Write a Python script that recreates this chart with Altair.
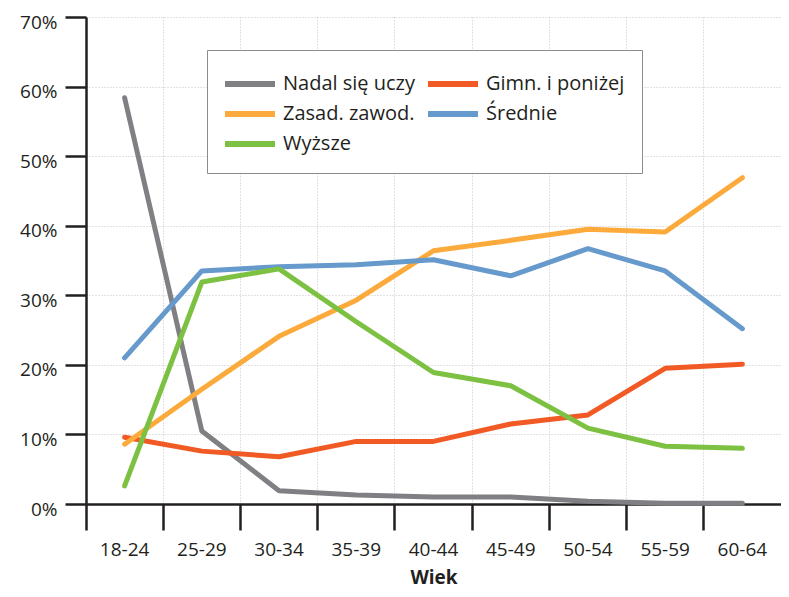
import altair as alt
import pandas as pd

wiek = ["18-24", "25-29", "30-34", "35-39", "40-44", "45-49", "50-54", "55-59", "60-64"]
nadal = [58.4, 10.5, 1.9, 1.3, 1.0, 1.0, 0.4, 0.1, 0.1]
gimn = [9.6, 7.6, 6.8, 9.0, 9.0, 11.5, 12.8, 19.5, 20.1]
zasad = [8.6, 16.5, 24.1, 29.3, 36.4, 37.9, 39.5, 39.1, 46.9]
srednie = [21.0, 33.5, 34.1, 34.4, 35.1, 32.8, 36.7, 33.5, 25.2]
wyzsze = [2.6, 31.9, 33.8, 26.2, 18.9, 17.0, 10.9, 8.3, 8.0]

series_names = ["Nadal się uczy", "Gimn. i poniżej", "Zasad. zawod.", "Średnie", "Wyższe"]
series_values = [nadal, gimn, zasad, srednie, wyzsze]
colors = ["#808084", "#f15a24", "#fbaa3b", "#6699cc", "#7dc142"]
y_ticks = [0, 10, 20, 30, 40, 50, 60, 70]

rows = []
for name, vals in zip(series_names, series_values):
    for w, v in zip(wiek, vals):
        rows.append({"wiek": w, "seria": name, "value": v})
df = pd.DataFrame(rows)

FONT = "Open Sans"
INK = "#231f20"
W = 695
H = 487

chart = (
    alt.Chart(df)
    .mark_line(strokeWidth=5, strokeCap="round", strokeJoin="round")
    .encode(
        x=alt.X(
            "wiek:O",
            sort=wiek,
            bandPosition=0.5,
            scale=alt.Scale(type="band", paddingInner=0, paddingOuter=0),
            axis=alt.Axis(
                title="Wiek",
                bandPosition=0,
                labelAngle=0,
                labelAlign="center",
                labelFont=FONT,
                labelFontSize=19,
                labelColor=INK,
                labelPadding=10,
                tickSize=26,
                tickWidth=2.5,
                tickColor=INK,
                domainWidth=2.5,
                domainColor=INK,
                grid=True,
                gridColor="#c4c4c4",
                gridDash=[1, 2],
                gridWidth=1,
                titleFont=FONT,
                titleFontSize=19,
                titleFontWeight="bold",
                titleColor=INK,
                titlePadding=9,
            ),
        ),
        y=alt.Y(
            "value:Q",
            scale=alt.Scale(domain=[0, 70], nice=False),
            axis=alt.Axis(
                title=None,
                values=y_ticks,
                labelExpr="datum.value + '%'",
                labelFont=FONT,
                labelFontSize=19,
                labelColor=INK,
                labelPadding=8,
                labelOffset=5,
                tickSize=21,
                tickWidth=2.5,
                tickColor=INK,
                domainWidth=2.5,
                domainColor=INK,
                grid=True,
                gridColor="#c4c4c4",
                gridDash=[1, 2],
                gridWidth=1,
            ),
        ),
        color=alt.Color(
            "seria:N",
            sort=series_names,
            scale=alt.Scale(domain=series_names, range=colors),
            legend=alt.Legend(
                title=" ",
                titleFontSize=5,
                titlePadding=2,
                orient="none",
                legendX=121,
                legendY=33,
                columns=2,
                direction="horizontal",
                symbolType="M-1.8,0L8.2,0",
                symbolSize=100,
                symbolStrokeWidth=6,
                labelFont=FONT,
                labelFontSize=20,
                labelColor=INK,
                labelOffset=39,
                columnPadding=0,
                rowPadding=6,
                padding=17,
                strokeColor="#8c8c8c",
                fillColor="white",
            ),
        ),
    )
    .properties(
        width=W,
        height=H,
        autosize="none",
        padding={"left": 78, "top": 9, "right": 0, "bottom": 85},
    )
    .configure_view(strokeWidth=0)
)

chart.save("out.html", embed_options={"renderer": "svg", "actions": False})
